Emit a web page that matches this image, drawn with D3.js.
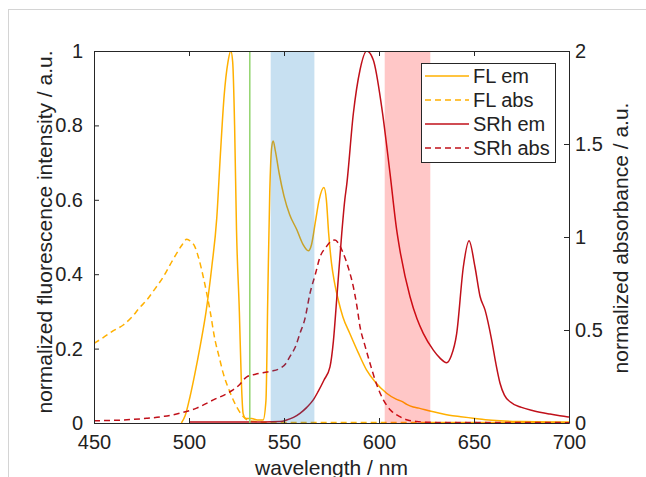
<!DOCTYPE html>
<html>
<head>
<meta charset="utf-8">
<script src="https://cdn.jsdelivr.net/npm/d3@7"></script>
<style>
body { margin: 0; background: #fff; }
text { font-family: "Liberation Sans", Arial, sans-serif; fill: #222; }
.axis-ticks { font-size: 20px; }
.axis-label { font-size: 21px; }
.legend-text { font-size: 20px; }
</style>
</head>
<body>
<svg id="chart" width="646" height="477"></svg>
<script>
// wavelength (nm), value ; emission on left axis, absorbance on right axis
var fl_em = [[496,0],[498,0.02],[500.5,0.07],[503,0.13],[506,0.21],[509,0.30],[512,0.42],[514.6,0.55],
    [516.5,0.72],[518.5,0.88],[520.5,0.97],[522,1.0],[523,0.97],[524,0.8],[525,0.52],[526.5,0.3],[527.5,0.12],
    [528.5,0.025],[530,0.012],[533,0.012],[536,0.008],[539,0.008],[540.5,0.06],[541.5,0.35],[542.5,0.62],
    [543.5,0.74],[544.3,0.758],[545.5,0.73],[547.5,0.67],[550,0.61],[553,0.56],[556.7,0.52],[560,0.48],
    [562.8,0.463],[564.5,0.48],[566.5,0.54],[568.5,0.6],[571,0.633],[572.3,0.6],[573.5,0.51],[575,0.43],
    [576.5,0.38],[578.6,0.33],[581,0.285],[584.7,0.24],[589,0.19],[593.5,0.142],[598,0.11],[604,0.08],
    [609,0.064],[612,0.058],[614.6,0.05],[618,0.043],[621,0.04],[626.8,0.032],[632,0.026],[637,0.021],
    [643,0.017],[649.5,0.013],[656,0.009],[663.7,0.006],[675,0.004],[690,0.003],[700,0.003]];

var fl_abs = [[450,0.428],[455,0.46],[460,0.495],[465.4,0.527],[470,0.57],[474,0.62],[477.7,0.66],[482,0.72],
    [486.5,0.786],[490,0.85],[493.5,0.912],[496.5,0.96],[498.8,0.988],[501,0.975],[503,0.95],[505,0.89],
    [507.5,0.786],[511,0.608],[513.7,0.446],[516,0.35],[518,0.268],[521,0.18],[523.3,0.124],[526,0.07],
    [528.6,0.034],[531,0.015],[535,0.008],[540,0.004],[560,0.003],[700,0.002]];

var srh_em = [[500,0.003],[540,0.003],[548,0.004],[551.4,0.008],[555,0.015],[558.4,0.026],[562,0.042],
    [565.4,0.062],[568,0.085],[571,0.115],[574.2,0.151],[576,0.22],[577.7,0.33],[580.4,0.51],[582,0.6],
    [583,0.64],[586.5,0.832],[590,0.949],[593.5,1.0],[597,0.976],[601.4,0.85],[605.8,0.671],[609.3,0.519],
    [611,0.465],[616.3,0.34],[620,0.28],[623.3,0.241],[628.6,0.196],[632,0.175],[635.6,0.162],[638,0.18],
    [640.9,0.241],[644.4,0.42],[647.4,0.49],[650.5,0.42],[653.2,0.34],[655.8,0.304],[659.3,0.223],
    [661.5,0.16],[663.7,0.107],[666,0.075],[669,0.057],[675,0.042],[681.2,0.033],[690,0.024],
    [698.8,0.017],[700,0.016]];

var srh_abs = [[450,0.012],[465,0.016],[477.7,0.025],[487,0.036],[495,0.052],[504,0.08],[512.8,0.124],
    [521.6,0.168],[526,0.2],[530.4,0.248],[535,0.262],[539,0.27],[543,0.278],[547.9,0.294],[551,0.32],
    [553,0.356],[556,0.41],[558.4,0.482],[561,0.56],[563.7,0.698],[566.5,0.8],[569,0.894],[572,0.944],
    [574.5,0.975],[576.8,0.984],[579,0.96],[581.2,0.912],[584,0.83],[586.5,0.732],[588.5,0.62],[590,0.518],
    [592.5,0.42],[595.3,0.32],[599,0.2],[602.3,0.124],[606,0.07],[611,0.034],[615,0.016],[619.8,0.008],
    [630,0.003],[700,0.002]];

var blue_band = [543, 566];
var red_band = [603, 627];
var laser_line = 532;

var x_ticks = [450, 500, 550, 600, 650, 700];
var y_left_ticks = [0, 0.2, 0.4, 0.6, 0.8, 1];
var y_right_ticks = [0, 0.5, 1, 1.5, 2];

var series = [
    {name: "FL em", data: fl_em, color: "#ffb000", dash: null, axis: "left"},
    {name: "FL abs", data: fl_abs, color: "#ffb000", dash: "6,4", axis: "right"},
    {name: "SRh em", data: srh_em, color: "#c0101a", dash: null, axis: "left"},
    {name: "SRh abs", data: srh_abs, color: "#c0101a", dash: "6,4", axis: "right"}
];

var margin = {left: 94, top: 51, right: 77, bottom: 54};
var width = 646 - margin.left - margin.right;
var height = 477 - margin.top - margin.bottom;

var svg = d3.select("#chart");

// light frame round the figure
svg.append("rect")
    .attr("x", 8.5).attr("y", 9.5)
    .attr("width", 700).attr("height", 500)
    .attr("fill", "none")
    .attr("stroke", "#d4d4d4");

var g = svg.append("g")
    .attr("transform", "translate(" + margin.left + "," + margin.top + ")");

var x = d3.scaleLinear().domain([450, 700]).range([0, width]);
var yl = d3.scaleLinear().domain([0, 1]).range([height, 0]);
var yr = d3.scaleLinear().domain([0, 2]).range([height, 0]);

var plot = g.append("g");

plot.append("clipPath").attr("id", "clip")
    .append("rect").attr("width", width).attr("height", height);

var curves = plot.append("g").attr("clip-path", "url(#clip)");

series.forEach(function (s) {
    var yscale = s.axis === "left" ? yl : yr;
    var line = d3.line()
        .x(function (d) { return x(d[0]); })
        .y(function (d) { return yscale(d[1]); })
        .curve(d3.curveMonotoneX);
    curves.append("path")
        .datum(s.data)
        .attr("d", line)
        .attr("fill", "none")
        .attr("stroke", s.color)
        .attr("stroke-width", 1.5)
        .attr("stroke-dasharray", s.dash);
});

// filter bands, drawn over the curves
curves.append("rect")
    .attr("x", x(blue_band[0])).attr("width", x(blue_band[1]) - x(blue_band[0]))
    .attr("y", 0).attr("height", height)
    .attr("fill", "rgb(0,114,189)").attr("fill-opacity", 0.22);

curves.append("rect")
    .attr("x", x(red_band[0])).attr("width", x(red_band[1]) - x(red_band[0]))
    .attr("y", 0).attr("height", height)
    .attr("fill", "rgb(255,0,0)").attr("fill-opacity", 0.22);

curves.append("line")
    .attr("x1", x(laser_line)).attr("x2", x(laser_line))
    .attr("y1", 0).attr("y2", height)
    .attr("stroke", "#92d46e").attr("stroke-width", 1.5);

function style_axis(sel) {
    sel.select(".domain").attr("stroke", "#262626");
    sel.selectAll(".tick line").attr("stroke", "#262626");
    sel.selectAll(".tick text").attr("class", "axis-ticks").attr("fill", "#222");
    sel.attr("font-family", null).attr("font-size", null);
}

g.append("g")
    .attr("transform", "translate(0," + height + ")")
    .call(d3.axisBottom(x).tickValues(x_ticks).tickSize(-5).tickSizeOuter(0).tickPadding(12))
    .call(style_axis);

g.append("g")
    .call(d3.axisTop(x).tickValues(x_ticks).tickSize(-5).tickSizeOuter(0).tickFormat(""))
    .call(style_axis);

g.append("g")
    .call(d3.axisLeft(yl).tickValues(y_left_ticks).tickSize(-5).tickSizeOuter(0).tickPadding(11)
        .tickFormat(function (d) { return d3.format("")(d); }))
    .call(style_axis);

g.append("g")
    .attr("transform", "translate(" + width + ",0)")
    .call(d3.axisRight(yr).tickValues(y_right_ticks).tickSize(-5).tickSizeOuter(0).tickPadding(6)
        .tickFormat(function (d) { return d3.format("")(d); }))
    .call(style_axis);

function axisLabel(svg, x_t, y_t, text, rotate = "") {
    svg.append("text")
        .attr("transform", "translate(" + x_t + "," + y_t + ")" + rotate)
        .attr("class", "axis-label")
        .style("text-anchor", "middle")
        .text(text);
}

axisLabel(svg, 331.5, 475, "wavelength / nm");
axisLabel(svg, 52, 232, "normalized fluorescence intensity / a.u.", "rotate(-90)");
axisLabel(svg, 628, 238, "normalized absorbance / a.u.", "rotate(-90)");

// legend
var legend = svg.append("g");
legend.append("rect")
    .attr("x", 421.5).attr("y", 63.5)
    .attr("width", 134).attr("height", 99)
    .attr("fill", "#fff").attr("stroke", "#262626");

series.forEach(function (s, i) {
    var ly = 76 + i * 24;
    legend.append("line")
        .attr("x1", 425).attr("x2", 469)
        .attr("y1", ly).attr("y2", ly)
        .attr("stroke", s.color).attr("stroke-width", 1.5)
        .attr("stroke-dasharray", s.dash);
    legend.append("text")
        .attr("x", 473).attr("y", ly).attr("dy", "0.35em")
        .attr("class", "legend-text")
        .text(s.name);
});
</script>
</body>
</html>
